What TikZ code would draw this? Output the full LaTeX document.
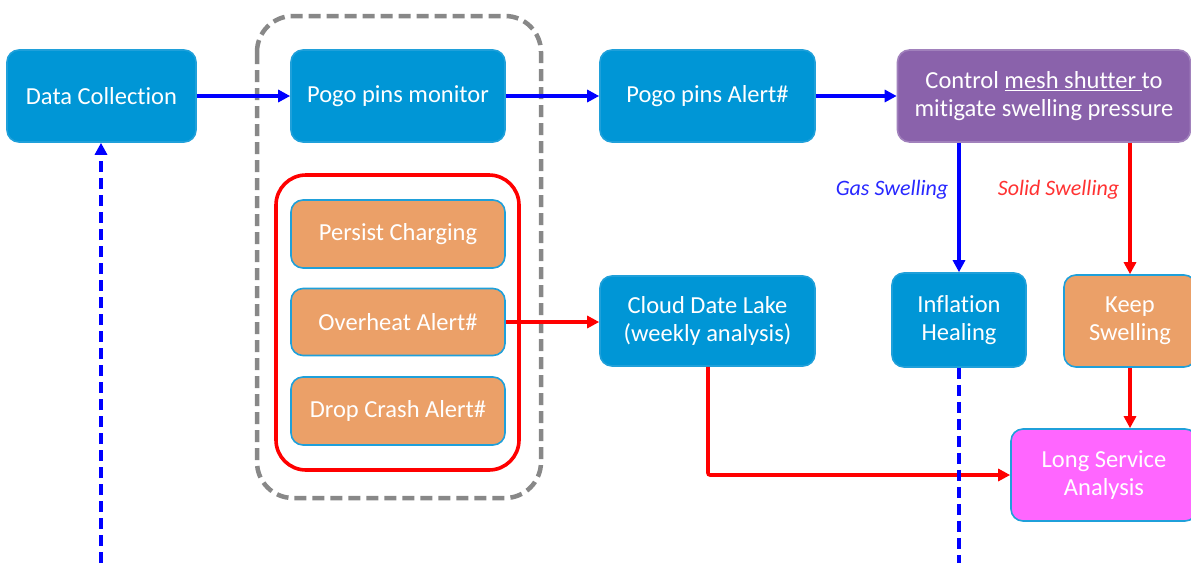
\documentclass[tikz,border=0pt]{standalone}
\usepackage{fontspec}
\setmainfont{Carlito}[Ligatures=NoCommon]
\usetikzlibrary{arrows.meta}
\definecolor{hpblue}{HTML}{0096D6}
\definecolor{hpborder}{HTML}{1FA0DA}
\definecolor{hporange}{HTML}{EBA068}
\definecolor{hppurple}{HTML}{8A62AB}
\definecolor{hpmagenta}{HTML}{FF66FF}
\definecolor{hpgrey}{HTML}{888888}
\definecolor{arrblue}{RGB}{0,0,255}
\definecolor{arrred}{RGB}{255,0,0}
\tikzset{
  box/.style={rectangle, rounded corners=12pt, fill=hpblue, draw=hpborder, line width=1.6pt,
    text=white, align=center, inner sep=0pt, font=\fontsize{24.5}{28}\selectfont},
  obox/.style={box, fill=hporange},
  bluearrow/.style={draw=arrblue, line width=3.4pt, -{Triangle[length=12pt,width=12pt]}},
  redarrow/.style={draw=arrred, line width=3.6pt, -{Triangle[length=12pt,width=12pt]}},
  lbl/.style={font=\fontsize{22}{26}\selectfont\itshape, inner sep=0pt},
}
\begin{document}
\begin{tikzpicture}[x=1pt,y=-1pt]
\clip (0,0) rectangle (1191,563);
\fill[white] (0,0) rectangle (1191,563);
% group frames
\draw[hpgrey, line width=4.5pt, dash pattern=on 12pt off 6pt, rounded corners=36pt] (257,16) rectangle (541,498);
\draw[arrred, line width=3.6pt, rounded corners=30pt] (276,175) rectangle (519,470);
% nodes
\node[box, minimum width=189pt, minimum height=92pt] (dc) at (101.5,96) {Data Collection};
\node[box, minimum width=214pt, minimum height=92pt] (pm) at (398,96) {Pogo pins monitor};
\node[box, minimum width=215pt, minimum height=92pt] (pa) at (707.5,96) {Pogo pins Alert\#};
\node[box, fill=hppurple, draw=hppurple!80!white, minimum width=293pt, minimum height=92pt] (cm) at (1044,96)
  {Control \underline{mesh shutter\ }to\\mitigate swelling pressure};
\node[obox, minimum width=214pt, minimum height=68pt] (pc) at (398,234) {Persist Charging};
\node[obox, minimum width=214pt, minimum height=67pt] (oa) at (398,322) {Overheat Alert\#};
\node[obox, minimum width=214pt, minimum height=68pt] (da) at (398,411) {Drop Crash Alert\#};
\node[box, minimum width=215pt, minimum height=90pt] (cl) at (707.5,321) {Cloud Date Lake\\(weekly analysis)};
\node[box, minimum width=134pt, minimum height=94pt] (ih) at (959,320) {Inflation\\Healing};
\node[obox, minimum width=132pt, minimum height=92pt] (ks) at (1130,321) {Keep\\Swelling};
\node[box, fill=hpmagenta, minimum width=186pt, minimum height=92pt] (ls) at (1104,475) {Long Service\\Analysis};
\coordinate (bot1) at (101,563);
\coordinate (bot2) at (959,563);
\coordinate (corner) at (708,475);
% connectors
\draw[bluearrow] (dc) -- (pm);
\draw[bluearrow] (pm) -- (pa);
\draw[bluearrow] (pa) -- (cm);
\draw[bluearrow] (cm.south -| ih.north) -- node[lbl, text={rgb,255:red,40;green,40;blue,255}, left=9pt, pos=0.36] {Gas Swelling} (ih.north);
\draw[redarrow] (cm.south -| ks.north) -- node[lbl, text={rgb,255:red,255;green,50;blue,50}, left=9pt, pos=0.36] {Solid Swelling} (ks.north);
\draw[redarrow] (ks.south) -- (ks.south |- ls.north);
\draw[redarrow] (oa.east) -- (oa.east -| cl.west);
\draw[redarrow, rounded corners=2pt] (cl.south -| corner) -- (corner) -- (ls.west);
\draw[bluearrow, -, dash pattern=on 11pt off 6pt] (ih.south) -- (bot2);
\draw[bluearrow, dash pattern=on 11pt off 6pt] (bot1) -- (dc.south -| bot1);
\end{tikzpicture}
\end{document}
